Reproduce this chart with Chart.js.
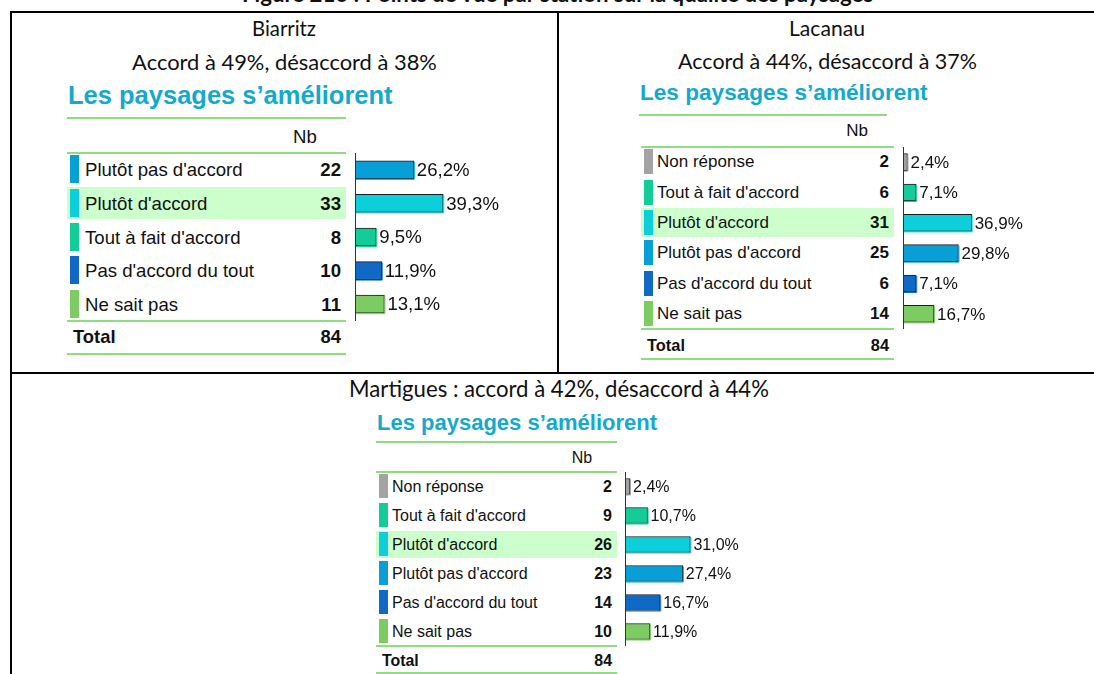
<!DOCTYPE html>
<html lang="fr">
<head>
<meta charset="utf-8">
<title>Points de vue par station sur la qualité des paysages</title>
<script src="https://cdn.jsdelivr.net/npm/chart.js@4/dist/chart.umd.min.js"></script>
<style>
  html, body { margin: 0; padding: 0; background: #fff; }
  body { width: 1094px; height: 674px; overflow: hidden; position: relative; }
  .abs { position: absolute; white-space: nowrap; }
  .cal { font-family: Lato, "Open Sans", sans-serif; color: #111; }
  .ari { font-family: "Liberation Sans", Arial, sans-serif; color: #111; }
  .rule { position: absolute; background: #000; }
  .gline { position: absolute; background: #8fdc82; height: 2px; }
  canvas { position: absolute; }
</style>
</head>
<body>
<script>
// ---- Survey answers: "Les paysages s'améliorent" ----
const biarritzCategories = ["Plutôt pas d'accord", "Plutôt d'accord", "Tout à fait d'accord", "Pas d'accord du tout", "Ne sait pas"];
const biarritzCounts = [22, 33, 8, 10, 11];
const biarritzPercents = [26.2, 39.3, 9.5, 11.9, 13.1];
const biarritzTotal = 84;

const lacanauCategories = ["Non réponse", "Tout à fait d'accord", "Plutôt d'accord", "Plutôt pas d'accord", "Pas d'accord du tout", "Ne sait pas"];
const lacanauCounts = [2, 6, 31, 25, 6, 14];
const lacanauPercents = [2.4, 7.1, 36.9, 29.8, 7.1, 16.7];
const lacanauTotal = 84;

const martiguesCategories = ["Non réponse", "Tout à fait d'accord", "Plutôt d'accord", "Plutôt pas d'accord", "Pas d'accord du tout", "Ne sait pas"];
const martiguesCounts = [2, 9, 26, 23, 14, 10];
const martiguesPercents = [2.4, 10.7, 31.0, 27.4, 16.7, 11.9];
const martiguesTotal = 84;

const figureTitle = "Figure 216 : Points de vue par station sur la qualité des paysages";
const questionTitle = "Les paysages s\u2019améliorent";
const highlightedCategory = "Plutôt d'accord";

const categoryColors = {
  "Non réponse": "#a3a3a3",
  "Tout à fait d'accord": "#14cc98",
  "Plutôt d'accord": "#0ccfd9",
  "Plutôt pas d'accord": "#079fd6",
  "Pas d'accord du tout": "#1169c6",
  "Ne sait pas": "#7dcb63"
};

// ---- page layout for each station block ----
const blocks = [
  { cats: biarritzCategories, counts: biarritzCounts, pcts: biarritzPercents, total: biarritzTotal,
    left: 67, right: 346, titleX: 68, titleY: 95, titleSize: 25.5, titleRule: [67, 346, 117],
    nbX: 305, nbY: 136, rowTop: 152.5, rowH: 33.6, swatchX: 70, swatchW: 9, swatchH: 28,
    labelX: 85, numRight: 341, font: 18.6, totalY: 337, totalFont: 18.4, bottomRule: 353,
    axisX: 355, pxPerPct: 2.245, barH: 18 },
  { cats: lacanauCategories, counts: lacanauCounts, pcts: lacanauPercents, total: lacanauTotal,
    left: 641, right: 894, titleX: 640, titleY: 93, titleSize: 22.6, titleRule: [639, 887, 114],
    nbX: 857, nbY: 131, rowTop: 146.5, rowH: 30.4, swatchX: 644, swatchW: 9, swatchH: 25,
    labelX: 657, numRight: 889, font: 17, totalFont: 16.4, totalY: 345, bottomRule: 358,
    axisX: 903, pxPerPct: 1.86, barH: 17 },
  { cats: martiguesCategories, counts: martiguesCounts, pcts: martiguesPercents, total: martiguesTotal,
    left: 376, right: 617, titleX: 377, titleY: 422, titleSize: 22, titleRule: [376, 617, 441],
    nbX: 582, nbY: 457, rowTop: 471.5, rowH: 29, swatchX: 379, swatchW: 8.5, swatchH: 24,
    labelX: 392, numRight: 612, font: 16, totalFont: 15.9, totalY: 660, bottomRule: 672,
    axisX: 625, pxPerPct: 2.11, barH: 16 }
];

const headers = [
  { text: "Biarritz", cx: 284, cy: 28, width: 64 },
  { text: "Accord à 49%, désaccord à 38%", cx: 284.5, cy: 61, width: 305 },
  { text: "Lacanau", cx: 827, cy: 28, width: 76 },
  { text: "Accord à 44%, désaccord à 37%", cx: 827.5, cy: 61, width: 299 },
  { text: "Martigues : accord à 42%, désaccord à 44%", cx: 559, cy: 389, width: 420 }
];

// ---- helpers ----
const measureCtx = document.createElement('canvas').getContext('2d');
function fitSize(text, weight, family, width) {
  measureCtx.font = weight + ' 100px ' + family;
  return 100 * width / measureCtx.measureText(text).width;
}
function el(tag, cls, css, text) {
  const e = document.createElement(tag);
  if (cls) e.className = cls;
  Object.assign(e.style, css);
  if (text !== undefined) e.textContent = text;
  document.body.appendChild(e);
  return e;
}
function textAt(text, cls, x, cy, size, weight, align, color) {
  const h = Math.ceil(size * 1.4);
  const css = { top: (cy - h / 2) + 'px', height: h + 'px', lineHeight: h + 'px',
                fontSize: size + 'px', fontWeight: weight || 'normal' };
  if (color) css.color = color;
  if (align === 'right') css.right = (1094 - x) + 'px';
  else if (align === 'center') { css.left = (x - 400) + 'px'; css.width = '800px'; css.textAlign = 'center'; }
  else css.left = x + 'px';
  return el('div', 'abs ' + cls, css, text);
}
const pctText = v => v.toFixed(1).replace('.', ',') + '%';

// ---- frame rules ----
el('div', 'rule', { left: '10px', top: '11px', width: '1084px', height: '2px' });
el('div', 'rule', { left: '10px', top: '11px', width: '2px', height: '663px' });
el('div', 'rule', { left: '557px', top: '11px', width: '2px', height: '363px' });
el('div', 'rule', { left: '10px', top: '372px', width: '1084px', height: '2px' });

// figure caption, running off the top edge
const capFamily = 'Lato, "Open Sans", sans-serif';
const capSize = fitSize(figureTitle, 'bold', capFamily, 633);
el('div', 'abs cal', { left: '242px', top: (5 - capSize) + 'px', fontSize: capSize + 'px',
  fontWeight: 'bold', lineHeight: capSize + 'px' }, figureTitle);

// station headers
headers.forEach(h => {
  const s = fitSize(h.text, 'normal', capFamily, h.width);
  textAt(h.text, 'cal', h.cx, h.cy, s, 'normal', 'center');
});

// value label + axis line + bar edge plugin
const barDecor = {
  id: 'barDecor',
  afterDatasetsDraw(chart, args, opts) {
    const { ctx, chartArea } = chart;
    const meta = chart.getDatasetMeta(0);
    const data = chart.data.datasets[0].data;
    const colors = chart.data.datasets[0].backgroundColor;
    ctx.save();
    meta.data.forEach((bar, i) => {
      const p = bar.getProps(['x', 'y', 'base', 'height'], true);
      const top = p.y - p.height / 2, bot = p.y + p.height / 2;
      // light outer edge on the right and bottom
      ctx.strokeStyle = colors[i];
      ctx.lineWidth = 1;
      ctx.beginPath();
      ctx.moveTo(p.x + 0.5, top + 1);
      ctx.lineTo(p.x + 0.5, bot + 0.5);
      ctx.lineTo(p.base + 1, bot + 0.5);
      ctx.stroke();
      ctx.fillStyle = '#111';
      ctx.font = opts.font + 'px "Liberation Sans", Arial, sans-serif';
      ctx.textBaseline = 'middle';
      ctx.textAlign = 'left';
      ctx.fillText(pctText(data[i]), p.x + 3, p.y + 1);
    });
    ctx.strokeStyle = '#333';
    ctx.lineWidth = 1;
    ctx.beginPath();
    ctx.moveTo(chartArea.left + 0.5, chartArea.top);
    ctx.lineTo(chartArea.left + 0.5, chartArea.bottom);
    ctx.stroke();
    ctx.restore();
  }
};

blocks.forEach(b => {
  // question title and green rules
  textAt(questionTitle, 'ari', b.titleX, b.titleY, b.titleSize, 'bold', 'left', '#15a9cb');
  el('div', 'gline', { left: b.titleRule[0] + 'px', top: b.titleRule[2] + 'px', width: (b.titleRule[1] - b.titleRule[0]) + 'px' });
  textAt('Nb', 'ari', b.nbX, b.nbY, b.font, 'normal', 'center');
  const n = b.cats.length;
  const tableBottom = b.rowTop + n * b.rowH;
  [b.rowTop - 1, tableBottom - 1, b.bottomRule].forEach(y =>
    el('div', 'gline', { left: b.left + 'px', top: y + 'px', width: (b.right - b.left) + 'px' }));

  b.cats.forEach((c, i) => {
    const cy = b.rowTop + (i + 0.5) * b.rowH;
    if (c === highlightedCategory) {
      el('div', 'abs', { left: b.left + 'px', top: (b.rowTop + i * b.rowH + 1) + 'px',
        width: (b.right - b.left) + 'px', height: (b.rowH - 2) + 'px', background: '#ccffcc' });
    }
    el('div', 'abs', { left: b.swatchX + 'px', top: (cy - b.swatchH / 2) + 'px',
      width: b.swatchW + 'px', height: b.swatchH + 'px', background: categoryColors[c] });
    textAt(c, 'ari', b.labelX, cy + 0.5, b.font, 'normal', 'left');
    textAt(String(b.counts[i]), 'ari', b.numRight, cy + 0.5, b.font, 'bold', 'right');
  });
  textAt('Total', 'ari', b.left + 6, b.totalY, b.totalFont, 'bold', 'left');
  textAt(String(b.total), 'ari', b.numRight, b.totalY, b.totalFont, 'bold', 'right');

  // horizontal bars
  const cw = 240, top = Math.round(b.rowTop), ch = Math.round(n * b.rowH);
  const cv = el('canvas', '', { left: (b.axisX - 1) + 'px', top: top + 'px', width: cw + 'px', height: ch + 'px' });
  cv.width = cw; cv.height = ch;
  new Chart(cv, {
    type: 'bar',
    data: {
      labels: b.cats,
      datasets: [{
        data: b.pcts,
        backgroundColor: b.cats.map(c => categoryColors[c]),
        borderColor: '#1c1c1c',
        borderWidth: 1,
        borderSkipped: false,
        barThickness: b.barH
      }]
    },
    options: {
      indexAxis: 'y',
      responsive: false,
      animation: false,
      events: [],
      layout: { padding: { left: 1, right: 0, top: 0, bottom: 0 } },
      plugins: { legend: { display: false }, tooltip: { enabled: false }, barDecor: { font: b.font } },
      scales: {
        x: { display: false, min: 0, max: (cw - 1) / b.pxPerPct },
        y: { display: false }
      }
    },
    plugins: [barDecor]
  });
});
</script>
</body>
</html>
